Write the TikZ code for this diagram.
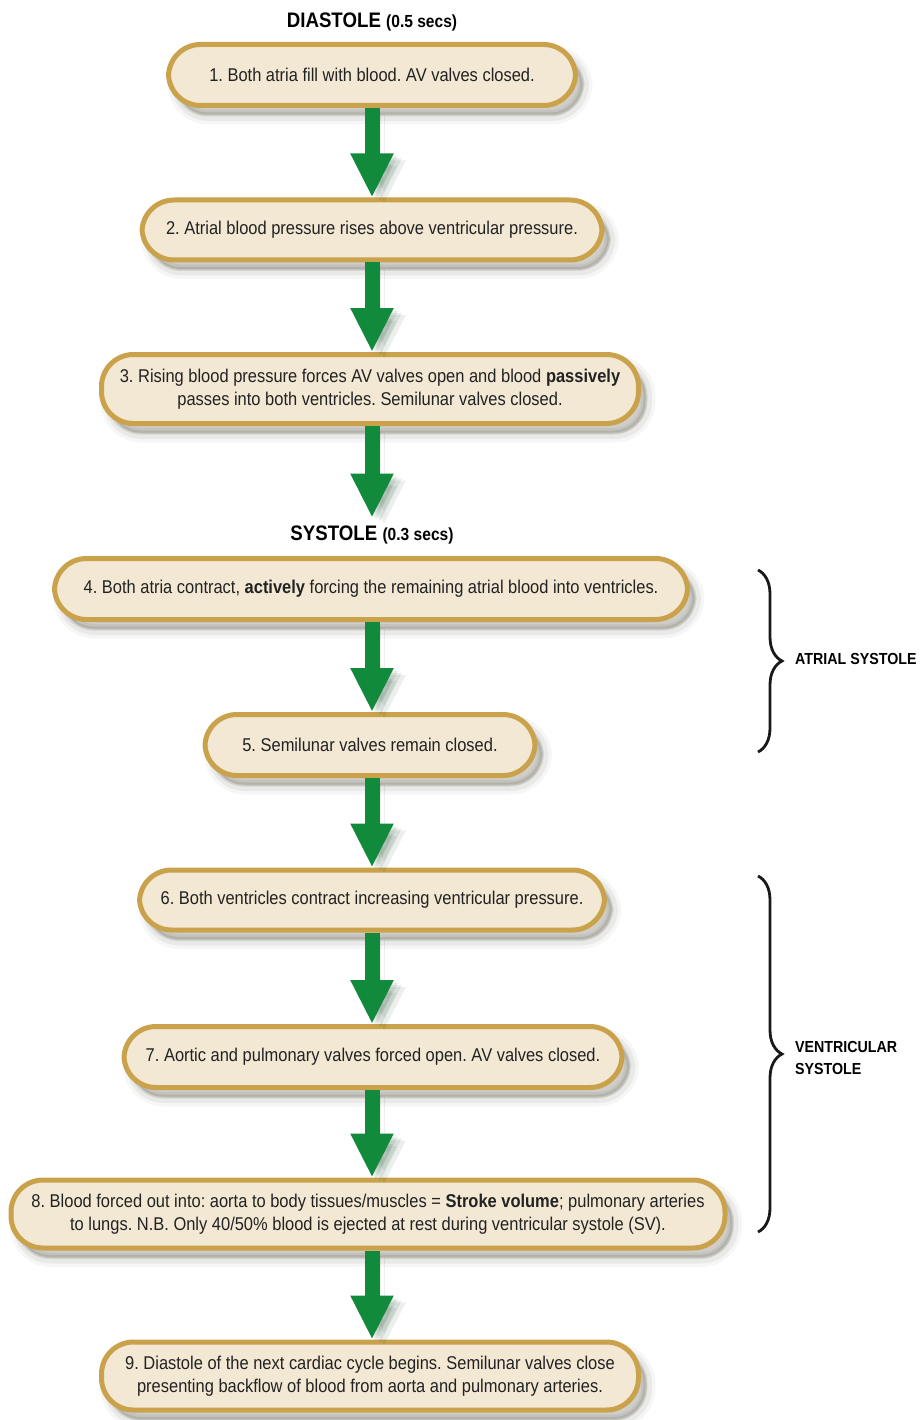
\documentclass[tikz,border=0pt]{standalone}
\usepackage{fontspec}
\setmainfont{Liberation Sans}[FakeStretch=0.89]
\usetikzlibrary{arrows.meta,shadows,decorations.pathreplacing}
\frenchspacing

\definecolor{boxfill}{HTML}{F2E8D3}
\definecolor{boxrim}{HTML}{C9A24B}
\definecolor{flowgreen}{HTML}{128A3C}
\definecolor{ink}{HTML}{222222}
\definecolor{shade}{HTML}{3A3826}

% smaller type for the durations beside the phase names
\newcommand{\durationfont}{\bfseries\fontsize{17.5}{20}\selectfont}

\tikzset{
  softshadow/.style={
    general shadow={fill=shade, draw=shade, line width=18pt, opacity=0.045,
                    shadow xshift=8pt, shadow yshift=-10pt},
    general shadow={fill=shade, draw=shade, line width=11pt, opacity=0.07,
                    shadow xshift=8pt, shadow yshift=-10pt},
    general shadow={fill=shade, draw=shade, line width=4pt, opacity=0.12,
                    shadow xshift=7pt, shadow yshift=-9pt}
  },
  stagebox/.style={
    rectangle, rounded corners=32pt, draw=boxrim, line width=5pt,
    fill=boxfill, softshadow, text=ink, align=center, inner sep=0pt,
    font=\fontsize{18.5}{23}\selectfont
  },
  flow/.style={
    draw=flowgreen, line width=15pt,
    -{Triangle[width=40pt,length=44pt]},
    preaction={draw=black!60!flowgreen, opacity=0.09,
               transform canvas={shift={(4pt,-3pt)}}},
    preaction={draw=black!60!flowgreen, opacity=0.09,
               transform canvas={shift={(8pt,-5pt)}}},
    preaction={draw=black!60!flowgreen, opacity=0.08,
               transform canvas={shift={(12pt,-7pt)}}}
  },
  phase/.style={font=\bfseries\fontsize{21}{24}\selectfont, text=black, inner sep=0pt},
  curly/.style={decorate, decoration={brace, amplitude=24pt, aspect=0.5},
                line width=2.8pt, draw=black!90},
  sidelabel/.style={font=\bfseries\fontsize{16}{22}\selectfont, align=left,
                    anchor=west, inner sep=0pt, text=black}
}

\begin{document}
\begin{tikzpicture}[x=1pt,y=-1pt]
\useasboundingbox (0,0) rectangle (922,1420);

% phase headings
\node[phase] (diastole) at (372,22) {DIASTOLE {\durationfont(0.5 secs)}};
\node[phase] (systole) at (372,535) {SYSTOLE {\durationfont(0.3 secs)}};

% stages of the cycle
\node[stagebox, minimum width=407pt, minimum height=61pt] (b1) at (372,75)
  {1. Both atria fill with blood. AV valves closed.};
\node[stagebox, minimum width=460pt, minimum height=60pt] (b2) at (372,230)
  {2. Atrial blood pressure rises above ventricular pressure.};
\node[stagebox, minimum width=537pt, minimum height=69pt] (b3) at (370,389)
  {3. Rising blood pressure forces AV valves open and blood \textbf{passively}\\
   passes into both ventricles. Semilunar valves closed.};
\node[stagebox, minimum width=633pt, minimum height=61pt] (b4) at (371,589)
  {4. Both atria contract, \textbf{actively} forcing the remaining atrial blood into ventricles.};
\node[stagebox, minimum width=330pt, minimum height=61pt] (b5) at (370,745)
  {5. Semilunar valves remain closed.};
\node[stagebox, minimum width=465pt, minimum height=60pt] (b6) at (372,900)
  {6. Both ventricles contract increasing ventricular pressure.};
\node[stagebox, minimum width=498pt, minimum height=61pt] (b7) at (373,1057)
  {7. Aortic and pulmonary valves forced open. AV valves closed.};
\node[stagebox, minimum width=714pt, minimum height=68pt] (b8) at (368,1214)
  {8. Blood forced out into: aorta to body tissues/muscles = \textbf{Stroke volume}; pulmonary arteries\\
   to lungs. N.B. Only 40/50\% blood is ejected at rest during ventricular systole (SV).};
\node[stagebox, minimum width=537pt, minimum height=68pt] (b9) at (370,1376)
  {9. Diastole of the next cardiac cycle begins. Semilunar valves close\\
   presenting backflow of blood from aorta and pulmonary arteries.};

% flow arrows
\draw[flow] (b1.south -| diastole) -- (b2.north -| diastole);
\draw[flow] (b2.south -| diastole) -- (b3.north -| diastole);
\draw[flow] (b3.south -| diastole) -- ([yshift=8pt]systole.north);
\draw[flow] (b4.south -| diastole) -- (b5.north -| diastole);
\draw[flow] (b5.south -| diastole) -- (b6.north -| diastole);
\draw[flow] (b6.south -| diastole) -- (b7.north -| diastole);
\draw[flow] (b7.south -| diastole) -- (b8.north -| diastole);
\draw[flow] (b8.south -| diastole) -- (b9.north -| diastole);

% braces grouping the systole stages
\coordinate (atop) at (758,570);
\coordinate (abot) at (758,752);
\coordinate (vtop) at (758,876);
\coordinate (vbot) at (758,1232);
\draw[curly] (atop) -- (abot);
\draw[curly] (vtop) -- (vbot);
\node[sidelabel] (atrial) at (795,659) {ATRIAL SYSTOLE};
\node[sidelabel] (ventricular) at (795,1058) {VENTRICULAR\\SYSTOLE};
\end{tikzpicture}
\end{document}
